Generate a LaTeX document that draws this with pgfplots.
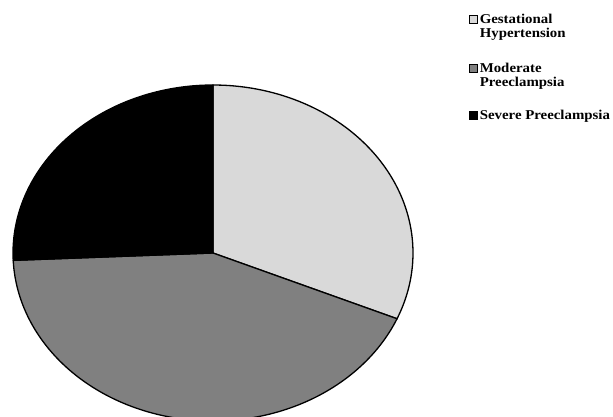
\documentclass[border=0pt]{standalone}
\usepackage{pgfplots}
\pgfplotsset{compat=1.18}
\usepackage{fontspec}
\setmainfont{Liberation Serif}
\newfontfamily\legfont[FakeStretch=1.1]{Liberation Serif}
\newcommand{\lf}{\legfont\bfseries\fontsize{13.5}{14}\selectfont}
\newcommand{\lent}[1]{\begin{tabular}[t]{@{}l@{}}#1\end{tabular}}
\definecolor{gh}{HTML}{D9D9D9}
\definecolor{mp}{HTML}{808080}
\definecolor{sp}{HTML}{000000}
\begin{document}
\begin{tikzpicture}
\useasboundingbox (0,0) rectangle (613pt,416pt);
% shares (percent)
\pgfmathsetmacro{\vA}{31.4}
\pgfmathsetmacro{\vB}{42.9}
\pgfmathsetmacro{\vC}{25.7}
\pgfmathsetmacro{\aA}{90}
\pgfmathsetmacro{\aB}{\aA-3.6*\vA}
\pgfmathsetmacro{\aC}{\aB-3.6*\vB}
\pgfmathsetmacro{\aD}{\aC-3.6*\vC}
\begin{axis}[
  scale only axis, width=400pt, height=336pt,
  xmin=-200, xmax=200, ymin=-168, ymax=168,
  hide axis, clip=false,
  anchor=center, at={(213pt,163pt)},
  legend style={draw=none, fill=none, at={(1.14,1.214)}, anchor=north west,
    inner sep=0pt, outer sep=0pt, row sep=35pt, column sep=1pt,
    nodes={inner sep=1pt, font=\lf}, cells={anchor=base west},
    font=\lf},
  legend image code/.code={\draw[#1, line width=0.8pt] (0pt,0pt) rectangle (8pt,8pt);},
]
\addplot[fill=gh, draw=black, line width=1.3pt, domain=\aA:\aB, samples=90, variable=\t]
  ({200*cos(\t)},{168*sin(\t)}) -- (axis cs:0,0) -- cycle;
\addlegendentry{\lent{\lf Gestational\\\lf Hypertension}}
\addplot[fill=mp, draw=black, line width=1.3pt, domain=\aB:\aC, samples=120, variable=\t]
  ({200*cos(\t)},{168*sin(\t)}) -- (axis cs:0,0) -- cycle;
\addlegendentry{\lent{\lf Moderate\\\lf Preeclampsia}}
\addplot[fill=sp, draw=black, line width=1.3pt, domain=\aC:\aD, samples=80, variable=\t]
  ({200*cos(\t)},{168*sin(\t)}) -- (axis cs:0,0) -- cycle;
\addlegendentry{\raisebox{0pt}[9pt][0pt]{\lf Severe Preeclampsia}}
\end{axis}
\end{tikzpicture}
\end{document}
